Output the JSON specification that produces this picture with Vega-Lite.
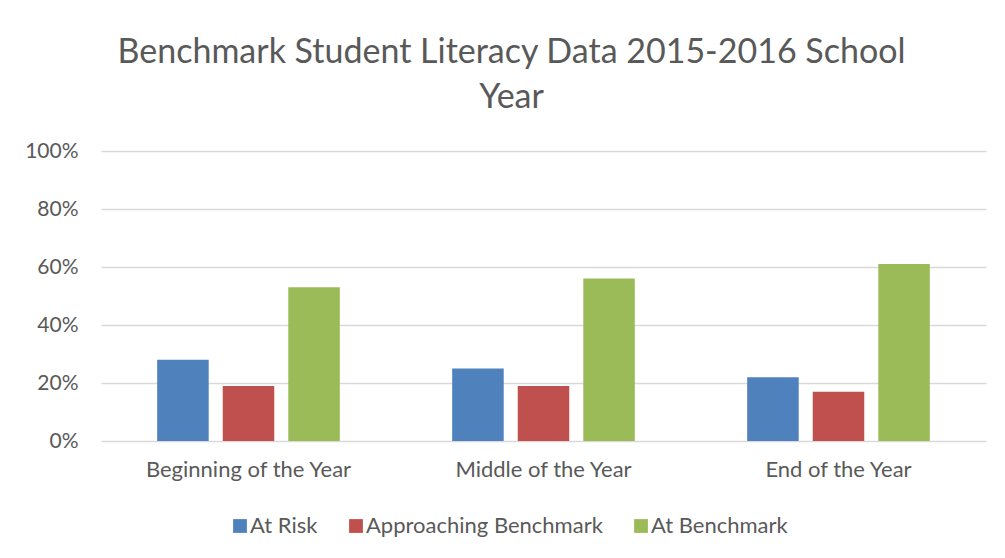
{
  "$schema": "https://vega.github.io/schema/vega-lite/v6.json",
  "width": 885,
  "height": 290,
  "autosize": {"type": "none"},
  "padding": {"left": 101, "top": 151, "right": 19, "bottom": 117},
  "background": "white",
  "title": {
    "text": ["Benchmark Student Literacy Data 2015-2016 School", "Year"],
    "font": "Lato",
    "fontSize": 34,
    "fontWeight": "normal",
    "color": "#595959",
    "anchor": "middle",
    "frame": "group",
    "dx": -32,
    "lineHeight": 45,
    "offset": 25
  },
  "data": {
    "values": [
      {"period": "Beginning of the Year", "level": "At Risk", "value": 0.28},
      {"period": "Beginning of the Year", "level": "Approaching Benchmark", "value": 0.19},
      {"period": "Beginning of the Year", "level": "At Benchmark", "value": 0.53},
      {"period": "Middle of the Year", "level": "At Risk", "value": 0.25},
      {"period": "Middle of the Year", "level": "Approaching Benchmark", "value": 0.19},
      {"period": "Middle of the Year", "level": "At Benchmark", "value": 0.56},
      {"period": "End of the Year", "level": "At Risk", "value": 0.22},
      {"period": "End of the Year", "level": "Approaching Benchmark", "value": 0.17},
      {"period": "End of the Year", "level": "At Benchmark", "value": 0.61}
    ]
  },
  "mark": {"type": "bar"},
  "encoding": {
    "x": {
      "field": "period",
      "type": "nominal",
      "sort": ["Beginning of the Year", "Middle of the Year", "End of the Year"],
      "scale": {"paddingInner": 0, "paddingOuter": 0},
      "axis": {
        "title": null,
        "labelAngle": 0,
        "domain": false,
        "ticks": false,
        "labelPadding": 18,
        "labelLimit": 400,
        "labelFont": "Lato",
        "labelFontSize": 22,
        "labelColor": "#595959"
      }
    },
    "xOffset": {
      "field": "level",
      "type": "nominal",
      "sort": ["At Risk", "Approaching Benchmark", "At Benchmark"],
      "scale": {"paddingInner": 0.214, "paddingOuter": 0.857}
    },
    "y": {
      "field": "value",
      "type": "quantitative",
      "scale": {"domain": [0, 1], "nice": false},
      "axis": {
        "title": null,
        "values": [0, 0.2, 0.4, 0.6, 0.8, 1],
        "format": ".0%",
        "domain": false,
        "ticks": false,
        "labelPadding": 23,
        "labelFont": "Lato",
        "labelFontSize": 21,
        "labelColor": "#595959",
        "gridColor": "#d9d9d9",
        "gridWidth": 1.5
      }
    },
    "color": {
      "field": "level",
      "type": "nominal",
      "scale": {
        "domain": ["At Risk", "Approaching Benchmark", "At Benchmark"],
        "range": ["#4f81bd", "#c0504d", "#9bbb59"]
      },
      "legend": {
        "title": null,
        "orient": "none",
        "direction": "horizontal",
        "legendX": 128,
        "legendY": 364,
        "symbolType": "square",
        "symbolSize": 190,
        "symbolStrokeWidth": 0,
        "labelFont": "Lato",
        "labelFontSize": 22,
        "labelLimit": 400,
        "labelColor": "#595959",
        "labelOffset": -1,
        "columnPadding": 27
      }
    }
  },
  "config": {
    "view": {"stroke": null}
  }
}
